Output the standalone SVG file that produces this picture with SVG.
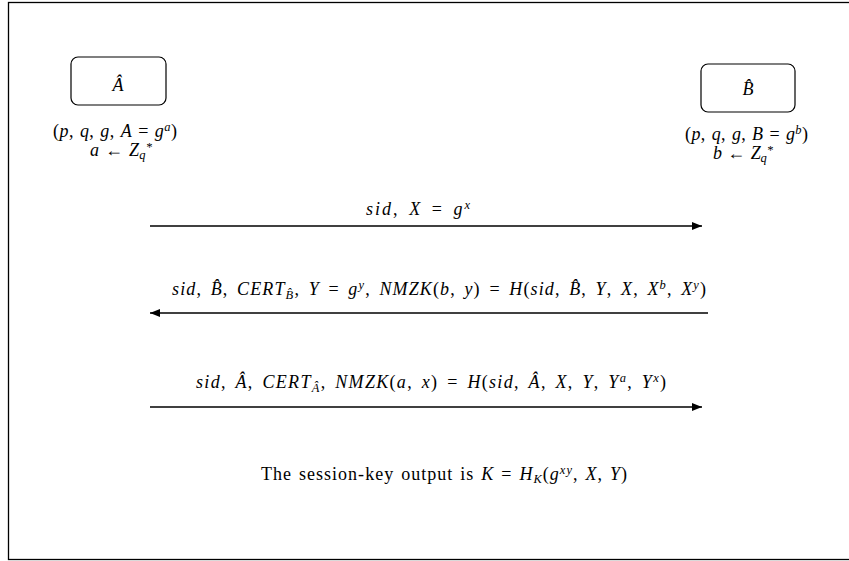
<svg xmlns="http://www.w3.org/2000/svg" width="849" height="561" viewBox="0 0 849 561">
<style>
text{font-family:"Liberation Serif","DejaVu Serif",serif;font-size:18px;fill:#000}
.m{font-style:italic}
.r{font-style:normal}
.s{font-size:12.5px}
.big{font-size:18px}
.eq{word-spacing:3px}
.pr{word-spacing:1.5px}
.nd{word-spacing:1px}
.node{fill:#fff;stroke:#000;stroke-width:1.2}
.conn{stroke:#000;stroke-width:1.3;fill:none}
</style>
<defs>
<marker id="ah" viewBox="0 0 10 8" refX="10" refY="4" markerWidth="10" markerHeight="8" markerUnits="userSpaceOnUse" orient="auto">
<path d="M0,0 L10,4 L0,8 Z" fill="#000"/>
</marker>
</defs>
<rect x="8.5" y="2.5" width="845" height="557" fill="#fff" stroke="#000" stroke-width="1.3"/>
<g id="nodeA">
<rect class="node" x="71" y="57" width="95" height="48" rx="7"/>
<text class="m big" x="118" y="91" text-anchor="middle">Â</text>
<text class="nd" x="53" y="137" textLength="124" lengthAdjust="spacing"><tspan class="r">(</tspan><tspan class="m">p</tspan><tspan class="r">, </tspan><tspan class="m">q</tspan><tspan class="r">, </tspan><tspan class="m">g</tspan><tspan class="r">, </tspan><tspan class="m">A</tspan><tspan class="r"> = </tspan><tspan class="m">g</tspan><tspan class="m s" dy="-6">a</tspan><tspan class="r" dy="6">)</tspan></text>
<text class="nd" x="90" y="156" textLength="62" lengthAdjust="spacing"><tspan class="m">a</tspan><tspan class="r"> ← </tspan><tspan class="m">Z</tspan><tspan class="m s" dy="3">q</tspan><tspan class="m s" dy="-8">*</tspan></text>
</g>
<g id="nodeB">
<rect class="node" x="701" y="64" width="94" height="48" rx="7"/>
<text class="m big" x="748" y="95" text-anchor="middle">B̂</text>
<text class="nd" x="685" y="140" textLength="123" lengthAdjust="spacing"><tspan class="r">(</tspan><tspan class="m">p</tspan><tspan class="r">, </tspan><tspan class="m">q</tspan><tspan class="r">, </tspan><tspan class="m">g</tspan><tspan class="r">, </tspan><tspan class="m">B</tspan><tspan class="r"> = </tspan><tspan class="m">g</tspan><tspan class="m s" dy="-6">b</tspan><tspan class="r" dy="6">)</tspan></text>
<text class="nd" x="713" y="159" textLength="60" lengthAdjust="spacing"><tspan class="m">b</tspan><tspan class="r"> ← </tspan><tspan class="m">Z</tspan><tspan class="m s" dy="3">q</tspan><tspan class="m s" dy="-8">*</tspan></text>
</g>
<g id="connectors">
<line class="conn" x1="150" y1="226" x2="702" y2="226" marker-end="url(#ah)"/>
<line class="conn" x1="708" y1="313" x2="150" y2="313" marker-end="url(#ah)"/>
<line class="conn" x1="150" y1="407" x2="702" y2="407" marker-end="url(#ah)"/>
</g>
<g id="labels">
<text class="eq" x="366" y="215" textLength="104" lengthAdjust="spacing"><tspan class="m">sid</tspan><tspan class="r">, </tspan><tspan class="m">X</tspan><tspan class="r"> = </tspan><tspan class="m">g</tspan><tspan class="m s" dy="-6">x</tspan></text>
<text class="eq" x="172" y="295" textLength="534" lengthAdjust="spacing"><tspan class="m">sid</tspan><tspan class="r">, </tspan><tspan class="m">B̂</tspan><tspan class="r">, </tspan><tspan class="m">CERT</tspan><tspan class="m s" dy="4">B̂</tspan><tspan class="r" dy="-4">, </tspan><tspan class="m">Y</tspan><tspan class="r"> = </tspan><tspan class="m">g</tspan><tspan class="m s" dy="-6">y</tspan><tspan class="r" dy="6">, </tspan><tspan class="m">NMZK</tspan><tspan class="r">(</tspan><tspan class="m">b</tspan><tspan class="r">, </tspan><tspan class="m">y</tspan><tspan class="r">) = </tspan><tspan class="m">H</tspan><tspan class="r">(</tspan><tspan class="m">sid</tspan><tspan class="r">, </tspan><tspan class="m">B̂</tspan><tspan class="r">, </tspan><tspan class="m">Y</tspan><tspan class="r">, </tspan><tspan class="m">X</tspan><tspan class="r">, </tspan><tspan class="m">X</tspan><tspan class="m s" dy="-6">b</tspan><tspan class="r" dy="6">, </tspan><tspan class="m">X</tspan><tspan class="m s" dy="-6">y</tspan><tspan class="r" dy="6">)</tspan></text>
<text class="eq" x="196" y="388" textLength="470" lengthAdjust="spacing"><tspan class="m">sid</tspan><tspan class="r">, </tspan><tspan class="m">Â</tspan><tspan class="r">, </tspan><tspan class="m">CERT</tspan><tspan class="m s" dy="4">Â</tspan><tspan class="r" dy="-4">, </tspan><tspan class="m">NMZK</tspan><tspan class="r">(</tspan><tspan class="m">a</tspan><tspan class="r">, </tspan><tspan class="m">x</tspan><tspan class="r">) = </tspan><tspan class="m">H</tspan><tspan class="r">(</tspan><tspan class="m">sid</tspan><tspan class="r">, </tspan><tspan class="m">Â</tspan><tspan class="r">, </tspan><tspan class="m">X</tspan><tspan class="r">, </tspan><tspan class="m">Y</tspan><tspan class="r">, </tspan><tspan class="m">Y</tspan><tspan class="m s" dy="-6">a</tspan><tspan class="r" dy="6">, </tspan><tspan class="m">Y</tspan><tspan class="m s" dy="-6">x</tspan><tspan class="r" dy="6">)</tspan></text>
<text class="pr" x="261" y="480" textLength="366" lengthAdjust="spacing"><tspan class="r">The session-key output is </tspan><tspan class="m">K</tspan><tspan class="r"> = </tspan><tspan class="m">H</tspan><tspan class="m s" dy="3">K</tspan><tspan class="r" dy="-3">(</tspan><tspan class="m">g</tspan><tspan class="m s" dy="-6">xy</tspan><tspan class="r" dy="6">, </tspan><tspan class="m">X</tspan><tspan class="r">, </tspan><tspan class="m">Y</tspan><tspan class="r">)</tspan></text>
</g>
</svg>
